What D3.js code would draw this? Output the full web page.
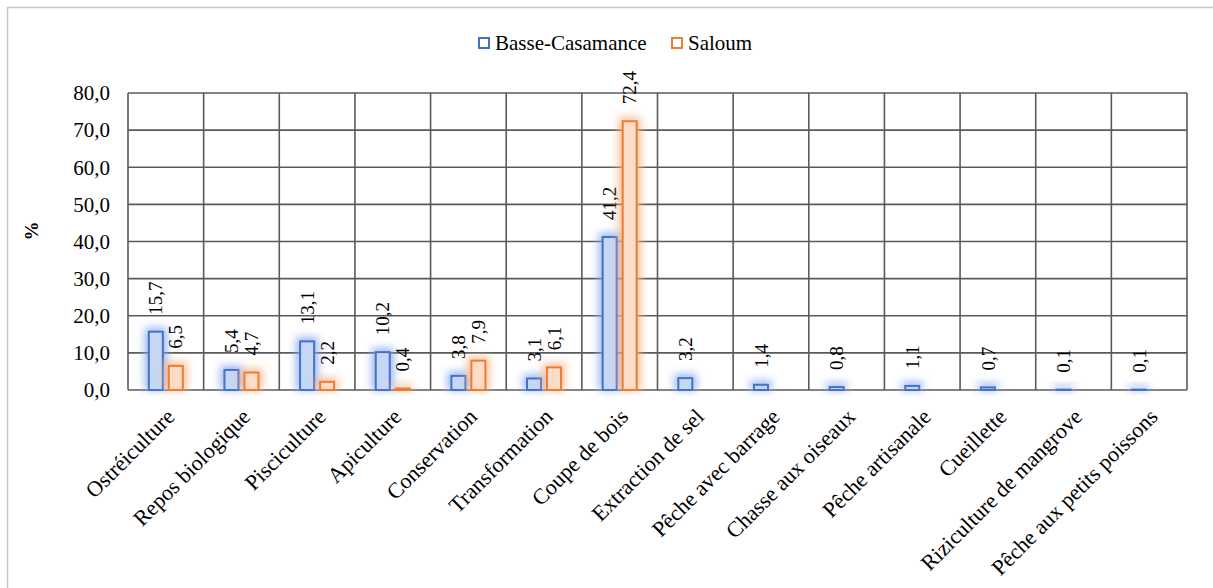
<!DOCTYPE html>
<html><head><meta charset="utf-8">
<script src="https://cdn.jsdelivr.net/npm/d3@7"></script>
<style>body{margin:0;background:#fff}svg{display:block}</style>
</head><body><svg id="c" width="1213" height="588" font-family="'Liberation Serif', 'Times New Roman', Tinos, 'DejaVu Serif', serif"></svg>
<script>
const categories = ["Ostréiculture","Repos biologique","Pisciculture","Apiculture","Conservation","Transformation","Coupe de bois","Extraction de sel","Pêche avec barrage","Chasse aux oiseaux","Pêche artisanale","Cueillette","Riziculture de mangrove","Pêche aux petits poissons"];
const basseCasamance = [15.7,5.4,13.1,10.2,3.8,3.1,41.2,3.2,1.4,0.8,1.1,0.7,0.1,0.1];
const saloum = [6.5,4.7,2.2,0.4,7.9,6.1,72.4,null,null,null,null,null,null,null];
const yTicks = [0,10,20,30,40,50,60,70,80];
const seriesNames = ["Basse-Casamance","Saloum"];

const svg = d3.select("#c");
const m = {left:128, right:1187, top:93, bottom:390};
const fmt = v => d3.format(".1f")(v).replace(".", ",");

svg.append("rect").attr("x",7.5).attr("y",7.5).attr("width",1230).attr("height",620)
  .attr("fill","none").attr("stroke","#c8c8c8").attr("stroke-width",1.5);

const x = d3.scaleBand().domain(categories).range([m.left,m.right]).paddingInner(0).paddingOuter(0);
const y = d3.scaleLinear().domain([0,80]).range([m.bottom,m.top]);
const x1 = d3.scaleBand().domain(seriesNames).range([0,34]).paddingInner(0.3);
const groupOffset = (x.bandwidth()-34)/2;

const defs = svg.append("defs");
const f = defs.append("filter").attr("id","glow").attr("x","-100%").attr("y","-100%").attr("width","300%").attr("height","300%");
f.append("feGaussianBlur").attr("stdDeviation",4);

const grid = svg.append("g").attr("stroke","#5a5a5a").attr("stroke-width",1.6);
yTicks.forEach(t=>{
  grid.append("line").attr("x1",m.left).attr("x2",m.right).attr("y1",y(t)).attr("y2",y(t));
});
categories.forEach(c=>{
  grid.append("line").attr("x1",x(c)).attr("x2",x(c)).attr("y1",m.top).attr("y2",m.bottom);
});
grid.append("line").attr("x1",m.right).attr("x2",m.right).attr("y1",m.top).attr("y2",m.bottom);

svg.append("g").selectAll("text").data(yTicks).join("text")
  .attr("x",110).attr("y",d=>y(d)).attr("dy","0.35em").attr("text-anchor","end")
  .attr("font-size",21).text(d=>fmt(d));

svg.append("text").attr("transform","translate(31,231) rotate(-90)").attr("text-anchor","middle")
  .attr("dy","0.35em").attr("font-size",19).attr("font-weight","bold").text("%");

const series = [
  {name:seriesNames[0], values:basseCasamance, stroke:"#4472C4", fill:"#c6d7f6", glow:"#86a9ee"},
  {name:seriesNames[1], values:saloum, stroke:"#ED7D31", fill:"#fcdcc6", glow:"#f6b284"}
];

series.forEach(s=>{
  const g = svg.append("g");
  const data = categories.map((c,i)=>({c, v:s.values[i]})).filter(d=>d.v!=null);
  const bx = d => x(d.c)+groupOffset+x1(s.name);
  g.selectAll("rect.glow").data(data).join("rect").attr("class","glow")
    .attr("x",d=>bx(d)-4).attr("y",d=>y(d.v)-4).attr("width",x1.bandwidth()+8)
    .attr("height",d=>Math.max(0,y(0)-y(d.v))+4).attr("fill",s.glow).attr("opacity",0.85)
    .attr("filter","url(#glow)");
  g.selectAll("rect.bar").data(data).join("rect").attr("class","bar")
    .attr("x",d=>bx(d)).attr("y",d=>y(d.v)).attr("width",x1.bandwidth())
    .attr("height",d=>Math.max(0,y(0)-y(d.v))).attr("fill",s.fill).attr("stroke",s.stroke).attr("stroke-width",2);
  g.selectAll("text").data(data).join("text")
    .attr("transform",d=>`translate(${bx(d)+x1.bandwidth()/2},${y(d.v)-17}) rotate(-90)`)
    .attr("dy","0.35em").attr("text-anchor","start").attr("font-size",19).text(d=>fmt(d.v));
});

svg.append("g").selectAll("text").data(categories).join("text")
  .attr("transform",d=>`translate(${x(d)+x.bandwidth()/2+10},${418}) rotate(-45)`)
  .attr("text-anchor","end").attr("font-size",22).text(d=>d);

const leg = svg.append("g");
const legX = [479, 672];
series.forEach((s,i)=>{
  leg.append("rect").attr("x",legX[i]).attr("y",38).attr("width",10).attr("height",10)
    .attr("fill","#fff").attr("stroke",s.stroke).attr("stroke-width",2);
  leg.append("text").attr("x",legX[i]+16).attr("y",50).attr("font-size",21).text(s.name);
});
</script></body></html>
